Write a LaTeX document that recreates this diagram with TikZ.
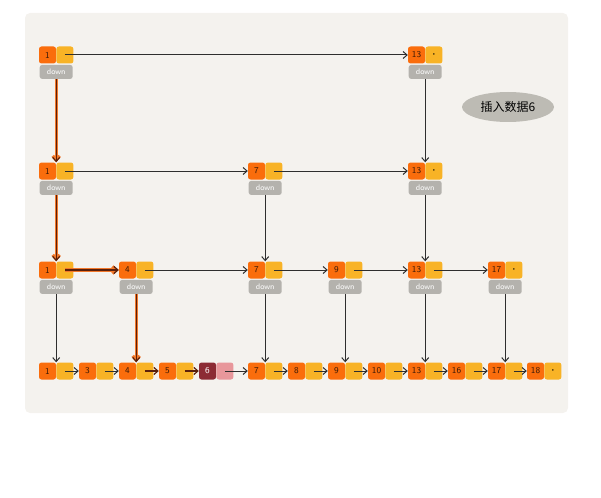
\documentclass[tikz,border=0pt]{standalone}
\usepackage{fontspec}
\newfontfamily\cjkfont{Noto Sans CJK SC}
\usetikzlibrary{arrows.meta, positioning, shapes.geometric}

\definecolor{bgbeige}{HTML}{F4F2EE}
\definecolor{valorange}{HTML}{FA6D0C}
\definecolor{ptryellow}{HTML}{F8B326}
\definecolor{downgray}{HTML}{B4B2AD}
\definecolor{newred}{HTML}{8C2B34}
\definecolor{newpink}{HTML}{E8979B}
\definecolor{linedark}{HTML}{2E2E2E}
\definecolor{pathdark}{HTML}{5A200A}
\definecolor{pathorange}{HTML}{F2782A}
\definecolor{blobgray}{HTML}{BDBBB4}
\definecolor{numdark}{HTML}{3A1A08}

\begin{document}
\begin{tikzpicture}[
    x=1pt, y=-1pt,
    valbox/.style={
        rectangle,
        rounded corners=2.5pt,
        fill=valorange,
        minimum width=17pt,
        minimum height=17pt,
        inner sep=0pt,
        text=numdark,
        font=\sffamily\small
    },
    ptrbox/.style={
        rectangle,
        rounded corners=2.5pt,
        fill=ptryellow,
        minimum width=17pt,
        minimum height=17pt,
        inner sep=0pt,
        font=\tiny
    },
    downbox/.style={
        rectangle,
        rounded corners=2.5pt,
        fill=downgray,
        minimum width=33pt,
        minimum height=14pt,
        inner sep=0pt,
        text=white,
        font=\sffamily\footnotesize
    },
    link/.style={-{Straight Barb[length=4pt, width=7pt]}, line width=1pt, draw=linedark},
    route/.style={-{Straight Barb[length=4pt, width=7pt]}, line width=1.2pt, draw=pathdark,
        preaction={draw=pathorange, line width=3.2pt}},
    routelink/.style={-{Straight Barb[length=4pt, width=7pt]}, line width=1.2pt, draw=pathdark}
]
\useasboundingbox (0,0) rectangle (601,497);
\fill[bgbeige, rounded corners=5pt] (25,13) rectangle (568,413);

% level 1
\node[valbox] (l1n1) at (47.5,55) {1};
\node[ptrbox, right=0pt of l1n1] (l1n1p) {};
\node[downbox, below=1pt of l1n1.south east] (l1n1d) {down};
\node[valbox] (l1n13) at (416.5,55) {13};
\node[ptrbox, right=0pt of l1n13] (l1n13p) {\textbullet};
\node[downbox, below=1pt of l1n13.south east] (l1n13d) {down};

% level 2
\node[valbox] (l2n1) at (47.5,171) {1};
\node[ptrbox, right=0pt of l2n1] (l2n1p) {};
\node[downbox, below=1pt of l2n1.south east] (l2n1d) {down};
\node[valbox] (l2n7) at (256.5,171) {7};
\node[ptrbox, right=0pt of l2n7] (l2n7p) {};
\node[downbox, below=1pt of l2n7.south east] (l2n7d) {down};
\node[valbox] (l2n13) at (416.5,171) {13};
\node[ptrbox, right=0pt of l2n13] (l2n13p) {\textbullet};
\node[downbox, below=1pt of l2n13.south east] (l2n13d) {down};

% level 3
\node[valbox] (l3n1) at (47.5,270) {1};
\node[ptrbox, right=0pt of l3n1] (l3n1p) {};
\node[downbox, below=1pt of l3n1.south east] (l3n1d) {down};
\node[valbox] (l3n4) at (127.5,270) {4};
\node[ptrbox, right=0pt of l3n4] (l3n4p) {};
\node[downbox, below=1pt of l3n4.south east] (l3n4d) {down};
\node[valbox] (l3n7) at (256.5,270) {7};
\node[ptrbox, right=0pt of l3n7] (l3n7p) {};
\node[downbox, below=1pt of l3n7.south east] (l3n7d) {down};
\node[valbox] (l3n9) at (336.5,270) {9};
\node[ptrbox, right=0pt of l3n9] (l3n9p) {};
\node[downbox, below=1pt of l3n9.south east] (l3n9d) {down};
\node[valbox] (l3n13) at (416.5,270) {13};
\node[ptrbox, right=0pt of l3n13] (l3n13p) {};
\node[downbox, below=1pt of l3n13.south east] (l3n13d) {down};
\node[valbox] (l3n17) at (496.5,270) {17};
\node[ptrbox, right=0pt of l3n17] (l3n17p) {\textbullet};
\node[downbox, below=1pt of l3n17.south east] (l3n17d) {down};

% base list
\node[valbox] (b1) at (47.5,371) {1};
\node[ptrbox, right=0pt of b1] (b1p) {};
\node[valbox] (b3) at (87.5,371) {3};
\node[ptrbox, right=0pt of b3] (b3p) {};
\node[valbox] (b4) at (127.5,371) {4};
\node[ptrbox, right=0pt of b4] (b4p) {};
\node[valbox] (b5) at (167.5,371) {5};
\node[ptrbox, right=0pt of b5] (b5p) {};
\node[valbox, fill=newred, text=white] (b6) at (207.5,371) {6};
\node[ptrbox, fill=newpink, right=0pt of b6] (b6p) {};
\node[valbox] (b7) at (256.5,371) {7};
\node[ptrbox, right=0pt of b7] (b7p) {};
\node[valbox] (b8) at (296.5,371) {8};
\node[ptrbox, right=0pt of b8] (b8p) {};
\node[valbox] (b9) at (336.5,371) {9};
\node[ptrbox, right=0pt of b9] (b9p) {};
\node[valbox] (b10) at (376.5,371) {10};
\node[ptrbox, right=0pt of b10] (b10p) {};
\node[valbox] (b13) at (416.5,371) {13};
\node[ptrbox, right=0pt of b13] (b13p) {};
\node[valbox] (b16) at (456.5,371) {16};
\node[ptrbox, right=0pt of b16] (b16p) {};
\node[valbox] (b17) at (496.5,371) {17};
\node[ptrbox, right=0pt of b17] (b17p) {};
\node[valbox] (b18) at (535.5,371) {18};
\node[ptrbox, right=0pt of b18] (b18p) {\textbullet};

% caption blob
\node[ellipse, fill=blobgray, minimum width=92pt, minimum height=30pt, inner sep=0pt,
      font=\cjkfont\large] (title) at (508,107) {插入数据6};

% horizontal links
\draw[link] (l1n1p.center) -- (l1n13.west);
\draw[link] (l2n1p.center) -- (l2n7.west);
\draw[link] (l2n7p.center) -- (l2n13.west);
\draw[route] (l3n1p.center) -- (l3n4.west);
\draw[link] (l3n4p.center) -- (l3n7.west);
\draw[link] (l3n7p.center) -- (l3n9.west);
\draw[link] (l3n9p.center) -- (l3n13.west);
\draw[link] (l3n13p.center) -- (l3n17.west);
\draw[link] (b1p.center) -- (b3.west);
\draw[link] (b3p.center) -- (b4.west);
\draw[routelink] (b4p.center) -- (b5.west);
\draw[routelink] (b5p.center) -- (b6.west);
\draw[link] (b6p.center) -- (b7.west);
\draw[link] (b7p.center) -- (b8.west);
\draw[link] (b8p.center) -- (b9.west);
\draw[link] (b9p.center) -- (b10.west);
\draw[link] (b10p.center) -- (b13.west);
\draw[link] (b13p.center) -- (b16.west);
\draw[link] (b16p.center) -- (b17.west);
\draw[link] (b17p.center) -- (b18.west);

% vertical links
\draw[route] (l1n1d.south) -- (l2n1.north east);
\draw[link] (l1n13d.south) -- (l2n13.north east);
\draw[route] (l2n1d.south) -- (l3n1.north east);
\draw[link] (l2n7d.south) -- (l3n7.north east);
\draw[link] (l2n13d.south) -- (l3n13.north east);
\draw[link] (l3n1d.south) -- (b1.north east);
\draw[route] (l3n4d.south) -- (b4.north east);
\draw[link] (l3n7d.south) -- (b7.north east);
\draw[link] (l3n9d.south) -- (b9.north east);
\draw[link] (l3n13d.south) -- (b13.north east);
\draw[link] (l3n17d.south) -- (b17.north east);
\end{tikzpicture}
\end{document}
